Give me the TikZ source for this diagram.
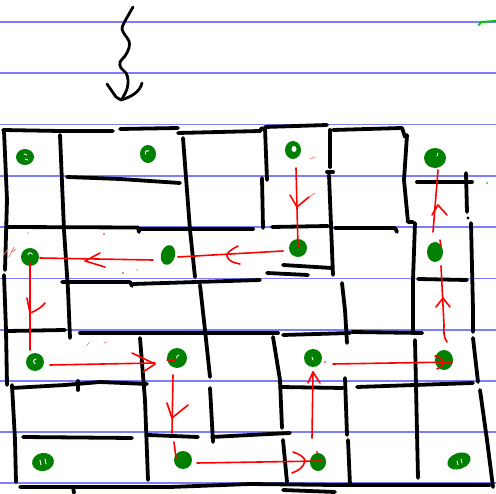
\documentclass[tikz,border=0pt]{standalone}
\definecolor{ruled}{RGB}{125,125,255}
\definecolor{dgreen}{RGB}{0,128,0}
\definecolor{lgreen}{RGB}{0,200,0}
\begin{document}
\begin{tikzpicture}[x=1pt,y=-1pt,
  wall/.style={line width=3.8pt,line cap=round,line join=round,black},
  rl/.style={line width=1.6pt,red,line cap=round,line join=round},
  faint/.style={line width=0.7pt,red!55,line cap=round},
  blueline/.style={line width=1.4pt,color=ruled},
  gdot/.style={fill=dgreen},
  wmark/.style={white,line width=0.9pt,line cap=round}]
\useasboundingbox (0,0) rectangle (496,494);
\fill[white] (0,0) rectangle (496,494);
% ruled lines
\foreach \yy in {22,73,124.5,176,227,278.5,330,381,432,483}
  \draw[blueline] (0,\yy) -- (496,\yy);
% green stroke top right
\draw[lgreen,line width=2pt,line cap=round] (479,25) -- (481,22) -- (496,21);
\fill[lgreen] (487,183) circle (1pt);
% squiggly arrow
\draw[line width=2.8pt,line cap=round,line join=round]
  plot[smooth,tension=0.6] coordinates {(133,7) (129,14) (124,23) (122,29) (125,35) (129,41) (129,48) (125,56) (120,62) (121,68) (126,73) (128,80) (127,89) (122,99)};
\draw[line width=2.8pt,line cap=round,line join=round]
  (107,84) -- (116,97) -- (121,100) .. controls (131,97) and (140,92) .. (142,83);
% ---------------- walls ----------------
% top border
\draw[wall] (3,130) -- (60,131) -- (113,131);
\draw[wall] (120,129) -- (178,128);
\draw[wall] (178,133) -- (260,131) -- (262,128);
\draw[wall] (265,127) -- (327,125);
\draw[wall] (333,130) -- (402,128) -- (405,137);
% left border
\draw[wall] (4,131) -- (7,200) -- (5,270);
\draw[wall] (4,275) -- (6,330) -- (7,385);
\draw[wall] (12,385) -- (15,440) -- (16,482);
% inner verticals upper
\draw[wall] (60,135) -- (64,230) -- (68,290) -- (70,338);
\draw[wall] (183,138) -- (190,230) -- (195,277);
\draw[wall] (200,285) -- (205,330) -- (210,377);
\draw[wall] (265,128) -- (267,180);
\draw[wall] (262,178) -- (263,228);
\draw[wall] (330,130) -- (330,167);
\draw[wall] (327,172) -- (333,172);
\draw[wall] (329,175) -- (333,275);
\draw[wall] (407,135) -- (404,180) -- (408,222) -- (413,222);
\draw[wall] (415,223) -- (413,280) -- (413,333) -- (422,333);
\draw[wall] (466,173) -- (467,212);
\fill (468,218) circle (1.6pt);
\draw[wall] (471,223) -- (473,310) -- (473,332);
\draw[wall] (473,338) -- (478,382);
\draw[wall] (480,390) -- (487,440) -- (493,487);
% inner horizontals upper
\draw[wall] (67,177) -- (120,179) -- (180,183);
\draw[wall] (6,227) -- (138,227.5) -- (139,232);
\draw[wall] (140,229) -- (253,229);
\draw[wall] (62,282) -- (130,282) -- (132,286);
\draw[wall] (133,284) -- (260,280);
\draw[wall] (272,227) -- (328,226);
\draw[wall] (283,265) -- (332,268);
\draw[wall] (267,273) -- (308,275);
\draw[wall] (335,228) -- (395,228) -- (397,232);
\draw[wall] (417,182) -- (472,182);
\draw[wall] (418,279) -- (467,280);
% middle row
\draw[wall] (8,331) -- (65,330);
\draw[wall] (80,333) -- (200,333) -- (278,333);
\draw[wall] (283,335) -- (350,333);
\draw[wall] (352,332) -- (422,333);
\draw[wall] (342,283) -- (345,310) -- (347,343);
% lower verticals
\draw[wall] (140,338) -- (145,400) -- (148,480);
\draw[wall] (210,388) -- (213,442);
\draw[wall] (273,337) -- (280,380) -- (282,428);
\draw[wall] (283,440) -- (287,482);
\draw[wall] (345,378) -- (347,435);
\draw[wall] (348,440) -- (350,485);
\draw[wall] (415,340) -- (418,478);
% lower horizontals
\draw[wall] (12,388) -- (65,385) -- (100,382) -- (147,384);
\draw[wall] (78,381) -- (78,390);
\draw[wall] (280,387) -- (343,388);
\draw[wall] (357,387) -- (473,383);
\draw[wall] (23,437) -- (132,438);
\draw[wall] (148,435) -- (198,437);
\draw[wall] (212,437) -- (250,435) -- (290,433);
% bottom
\draw[wall] (20,487) -- (170,487) -- (250,484) -- (335,485) -- (490,485);
\draw[wall] (283,490) -- (335,492);
\draw[wall] (73,487) -- (74,493);
% ---------------- green dots ----------------
\fill[gdot] (25,157) ellipse [x radius=9pt,y radius=8pt];
\draw[wmark] (24,154) -- (27,155);
\draw[wmark] (25,159) -- (28,160);
\fill[gdot] (148,154) ellipse [x radius=8pt,y radius=9pt];
\draw[wmark] (149,151) arc[start angle=60,end angle=200,radius=2.5pt];
\fill[gdot] (293,150) ellipse [x radius=8pt,y radius=9pt];
\fill[white] (294,149) ellipse [x radius=2.5pt,y radius=3pt];
\fill[gdot] (435,158) ellipse [x radius=11pt,y radius=10pt];
\draw[wmark] (438,153) -- (437,156);
\fill[gdot] (30,257) ellipse [x radius=9pt,y radius=9pt];
\draw[wmark] (28,255) arc[start angle=180,end angle=20,radius=2.3pt];
\fill[gdot,rotate around={-15:(168,255)}] (168,255) ellipse [x radius=7pt,y radius=10pt];
\fill[gdot] (298,248) ellipse [x radius=9pt,y radius=9pt];
\fill[gdot] (435,252) ellipse [x radius=8pt,y radius=10pt];
\fill[gdot] (35,362) ellipse [x radius=9pt,y radius=9pt];
\draw[wmark] (36,359) arc[start angle=90,end angle=250,radius=2.5pt];
\fill[gdot] (177,358) ellipse [x radius=10pt,y radius=10pt];
\draw[wmark] (179,355) arc[start angle=90,end angle=200,radius=2.3pt];
\fill[gdot] (313,358) ellipse [x radius=9pt,y radius=9pt];
\draw[wmark] (312,357) -- (313,360);
\fill[gdot] (444,360) ellipse [x radius=9pt,y radius=10pt];
\fill[gdot,rotate around={10:(43,462)}] (43,462) ellipse [x radius=11pt,y radius=9pt];
\draw[wmark] (40,460) -- (41,465);
\draw[wmark] (45,459) -- (46,464);
\fill[gdot] (183,460) ellipse [x radius=9pt,y radius=9pt];
\fill[gdot] (318,462) ellipse [x radius=8pt,y radius=9pt];
\fill[gdot,rotate around={20:(459,461)}] (459,461) ellipse [x radius=12pt,y radius=8pt];
\draw[wmark] (457,461) -- (458,465);
\draw[wmark] (461,459) -- (462,463);
% ---------------- red path ----------------
% A: down from top dot
\draw[rl] (296,168) -- (298,247);
\draw[rl] (290,195) -- (297,207) -- (309,197);
% B: left
\draw[rl] (283,251) -- (178,257);
\draw[rl] (238,246) .. controls (230,250) and (226,254) .. (227,256) .. controls (228,261) and (234,263) .. (240,264);
% C: left
\draw[rl] (153,260) -- (40,258);
\draw[rl] (100,253) -- (85,261) -- (105,267);
% D: down
\draw[rl] (30,263) -- (30,350);
\draw[rl] (27,298) -- (30,313) .. controls (36,311) and (42,307) .. (45,303);
% E: right
\draw[rl] (50,365) -- (155,363);
\draw[rl] (132,353) -- (155,364) -- (143,372);
% F: down
\draw[rl] (167,360) -- (175,360);
\draw[rl] (173,375) -- (172,433);
\draw[rl] (167,403) -- (172,418) -- (188,405);
% G
\draw[rl] (174,442) -- (176,458);
% H: right
\draw[rl] (197,463) -- (322,461);
\draw[rl] (293,452) .. controls (300,454) and (305,458) .. (305,461) .. controls (304,467) and (298,471) .. (292,473);
% I: up
\draw[rl] (312,438) -- (313,372);
\draw[rl] (308,383) -- (313,372) -- (320,383);
% J: right
\draw[rl] (333,364) -- (452,362);
\draw[rl] (435,356) .. controls (441,357) and (443,360) .. (443,362) .. controls (443,366) and (440,368) .. (437,369);
% K: up
\draw[rl] (447,342) .. controls (443,336) and (444,332) .. (444,325) -- (441,266);
\draw[rl] (436,307) -- (443,298) -- (450,307);
\draw[rl] (440,240) -- (441,246);
% L: up
\draw[rl] (433,232) -- (438,170);
\draw[rl] (432,215) -- (438,205) -- (447,215);
% red specks
\fill[red] (317,452) circle (1.2pt);
\fill[red] (325,362) circle (0.9pt);
\fill[red] (104,234) circle (0.8pt);
\fill[red] (123,273) circle (0.9pt);
\fill[red] (137,270) circle (0.7pt);
\fill[red] (28,233) circle (0.6pt);
\draw[faint] (3,256) -- (8,249);
\draw[faint] (9,257) -- (14,247);
\draw[faint] (12,252) -- (16,249);
\draw[faint] (310,159) -- (315,157);
\draw[faint] (309,197) -- (315,193);
\draw[faint] (86,346) -- (90,342);
\draw[faint] (104,343) -- (107,342);
\end{tikzpicture}
\end{document}
